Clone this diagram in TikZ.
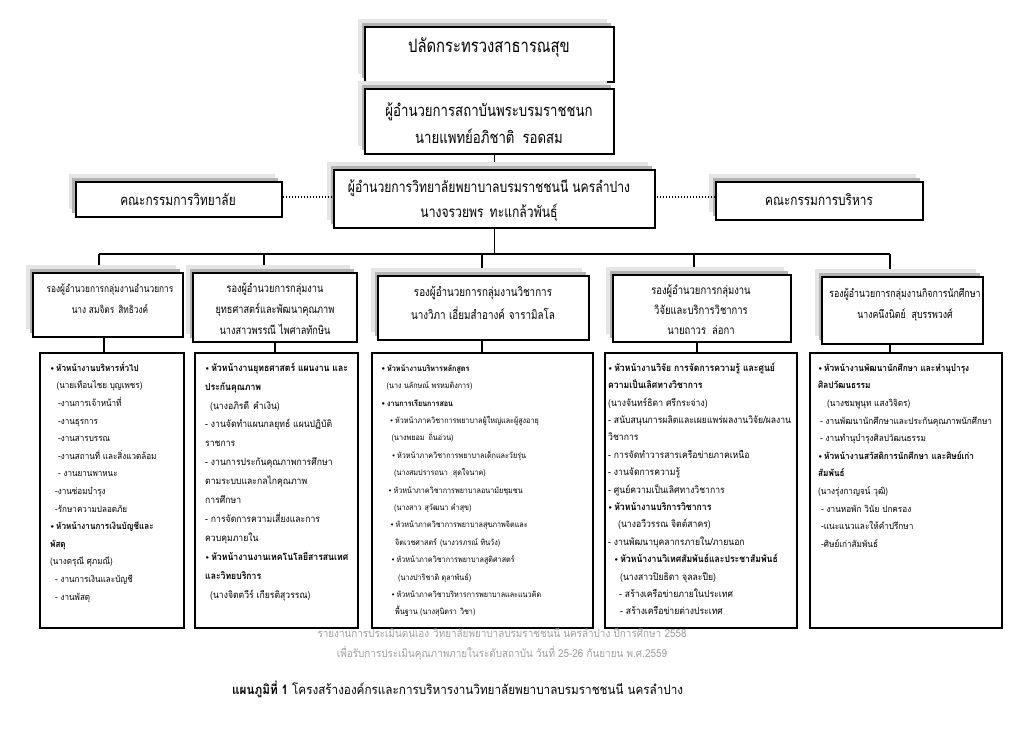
\documentclass[tikz,border=0pt]{standalone}
\usepackage{fontspec}
\newfontfamily\thai[Script=Thai]{Loma}
\newfontfamily\thaiA[Script=Thai,FakeStretch=0.8]{Loma}
\newfontfamily\thaiB[Script=Thai,FakeStretch=0.9]{Loma}
\newfontfamily\dejavu{DejaVu Sans}
\usetikzlibrary{shadows,calc}
\pgfdeclarelayer{bg}
\pgfsetlayers{bg,main}
\newcommand\bul{{\dejavu\fontsize{7}{8}\selectfont •}\,}
\newcommand\fr{\rule{0pt}{12pt}}
\tikzset{
  shadowed/.style={general shadow={shadow xshift=-7pt,shadow yshift=8pt,fill=gray!20},
                   general shadow={shadow xshift=-3.5pt,shadow yshift=4pt,fill=gray!60}},
  topbox/.style={draw=black, line width=1.8pt, fill=white, inner sep=0pt, shadowed},
  vpbox/.style={draw=black, line width=2.3pt, fill=white, inner sep=0pt, shadowed},
  dbox/.style={draw=black, line width=1.2pt, fill=white, inner sep=0pt},
  link/.style={line width=1.5pt},
  busline/.style={line width=2pt},
  dots/.style={line width=2.4pt, dash pattern=on 1.6pt off 1.4pt},
  toptext/.style={align=center, inner sep=0pt},
  vptext/.style={align=center, inner sep=0pt},
  dtext/.style={anchor=north west, align=left, inner sep=0pt},
  foot/.style={inner sep=0pt, text=gray!75, font=\thaiB\fontsize{11}{12}\selectfont},
}
\begin{document}
\begin{tikzpicture}[x=1pt,y=-1pt]
\useasboundingbox (0,0) rectangle (1030,728);
\begin{pgfonlayer}{bg}
\fill[white] (0,0) rectangle (1030,728);
\end{pgfonlayer}

% top boxes
\node[topbox, minimum width=249pt, minimum height=55pt] (top1) at (489.5,54.5) {};
\node[toptext, font=\thaiA\fontsize{18.5}{27}\selectfont] (top1t) at (489,48) {ปลัดกระทรวงสาธารณสุข};
\node[topbox, minimum width=249pt, minimum height=65pt] (top2) at (489.5,121.5) {};
\node[toptext, font=\thaiA\fontsize{16.5}{27}\selectfont] (top2t) at (489,123.5) {ผู้อำนวยการสถาบันพระบรมราชชนก\\นายแพทย์อภิชาติ\hspace{8pt}รอดสม};
\node[topbox, minimum width=321pt, minimum height=58pt] (dir) at (494.5,199) {};
\node[toptext, font=\thaiA\fontsize{15.2}{25}\selectfont] (dirt) at (489,200.5) {ผู้อำนวยการวิทยาลัยพยาบาลบรมราชชนนี นครลำปาง\\นางจรวยพร\hspace{6pt}ทะแกล้วพันธุ์};
\node[topbox, minimum width=206pt, minimum height=35pt] (comL) at (178.75,199.5) {};
\node[toptext, font=\thaiA\fontsize{14.8}{20}\selectfont] (comLt) at (178,200) {คณะกรรมการวิทยาลัย};
\node[topbox, minimum width=207pt, minimum height=38pt] (comR) at (819.5,201) {};
\node[toptext, font=\thaiA\fontsize{14.8}{20}\selectfont] (comRt) at (819,200) {คณะกรรมการบริหาร};

% second level
\node[vpbox, minimum width=150pt, minimum height=64pt] (vA) at (108,305) {};
\node[vptext, font=\thaiA\fontsize{10.4}{21}\selectfont] (vAt) at (110,299) {รองผู้อำนวยการกลุ่มงานอำนวยการ\\นาง สมจิตร\hspace{4pt}สิทธิวงค์};
\node[vpbox, minimum width=164pt, minimum height=69pt] (vB) at (275,307.5) {};
\node[vptext, font=\thaiA\fontsize{11.5}{21}\selectfont] (vBt) at (275,309) {รองผู้อำนวยการกลุ่มงาน\\ยุทธศาสตร์และพัฒนาคุณภาพ\\นางสาวพรรณี ไพศาลทักษิน};
\node[vpbox, minimum width=211pt, minimum height=64pt] (vC) at (483.5,308) {};
\node[vptext, font=\thaiA\fontsize{12.3}{23}\selectfont] (vCt) at (483,302.5) {รองผู้อำนวยการกลุ่มงานวิชาการ\\นางวิภา เอี่ยมสำอางค์\hspace{4pt}จารามิลโล};
\node[vpbox, minimum width=178pt, minimum height=67pt] (vD) at (702,308.5) {};
\node[vptext, font=\thaiA\fontsize{11.8}{20}\selectfont] (vDt) at (701,310) {รองผู้อำนวยการกลุ่มงาน\\วิจัยและบริการวิชาการ\\นายถาวร\hspace{6pt}ล่อกา};
\node[vpbox, minimum width=161pt, minimum height=67pt] (vE) at (902.5,310.5) {};
\node[vptext, font=\thaiA\fontsize{11}{21}\selectfont] (vEt) at (905,304.5) {รองผู้อำนวยการกลุ่มงานกิจการนักศึกษา\\นางคนึงนิตย์\hspace{6pt}สุบรรพวงศ์};

% detail boxes
\node[dbox, minimum width=144pt, minimum height=275pt] (dA) at (112,490.5) {};
\node[dbox, minimum width=163pt, minimum height=275pt] (dB) at (276.5,490.5) {};
\node[dbox, minimum width=221pt, minimum height=275pt] (dC) at (482.5,490.5) {};
\node[dbox, minimum width=192pt, minimum height=275pt] (dD) at (701,490.5) {};
\node[dbox, minimum width=192pt, minimum height=275pt] (dE) at (906,490.5) {};

\node[dtext, font=\thaiB\fontsize{9}{17.6}\selectfont] (dAt) at (50,359) {%
\fr\textbf{\bul หัวหน้างานบริหารทั่วไป}\\
\hspace*{6.5pt}(นายเทือนไชย บุญเพชร)\\
\hspace*{8pt}-งานการเจ้าหน้าที่\\
\hspace*{8pt}-งานธุรการ\\
\hspace*{8pt}-งานสารบรรณ\\
\hspace*{8pt}-งานสถานที่ และสิ่งแวดล้อม\\
\hspace*{8pt}- งานยานพาหนะ\\
\hspace*{5pt}-งานซ่อมบำรุง\\
\hspace*{5pt}-รักษาความปลอดภัย\\
\textbf{\bul หัวหน้างานการเงินบัญชีและ}\\
\textbf{พัสดุ}\\
(นางดรุณี ศุภมณี)\\
\hspace*{5pt}- งานการเงินและบัญชี\\
\hspace*{5pt}- งานพัสดุ};

\node[dtext, font=\thaiB\fontsize{9.6}{18.9}\selectfont] (dBt) at (205,359) {%
\fr\textbf{\bul หัวหน้างานยุทธศาสตร์ แผนงาน และ}\\
\textbf{ประกันคุณภาพ}\\
\hspace*{5pt}(นางอภิรดี\hspace{4pt}คำเงิน)\\
- งานจัดทำแผนกลยุทธ์ แผนปฏิบัติ\\
ราชการ\\
- งานการประกันคุณภาพการศึกษา\\
ตามระบบและกลไกคุณภาพ\\
การศึกษา\\
- การจัดการความเสี่ยงและการ\\
ควบคุมภายใน\\
\textbf{\bul หัวหน้างานงานเทคโนโลยีสารสนเทศ}\\
\textbf{และวิทยบริการ}\\
\hspace*{5pt}(นางจิตตวีร์ เกียรติสุวรรณ)};

\node[dtext, font=\thaiB\fontsize{8}{17.4}\selectfont] (dCt) at (381,359) {%
\fr\textbf{\bul หัวหน้างานบริหารหลักสูตร}\\
\hspace*{5.5pt}(นาง นลักษณ์ พรหมติงการ)\\
\textbf{\bul งานการเรียนการสอน}\\
\hspace*{8.5pt}\bul หัวหน้าภาควิชาการพยาบาลผู้ใหญ่และผู้สูงอายุ\\
\hspace*{10.5pt}(นางพยอม\hspace{4pt}ถิ่นอ่วน)\\
\hspace*{10.5pt}\bul หัวหน้าภาควิชาการพยาบาลเด็กและวัยรุ่น\\
\hspace*{13pt}(นางสมปรารถนา\hspace{5pt}สุดใจนาค)\\
\hspace*{7pt}\bul หัวหน้าภาควิชาการพยาบาลอนามัยชุมชน\\
\hspace*{13pt}(นางสาว\hspace{3pt}สุวัฒนา คำสุข)\\
\hspace*{9pt}\bul หัวหน้าภาควิชาการพยาบาลสุขภาพจิตและ\\
\hspace*{14pt}จิตเวชศาสตร์\hspace{3pt}(นางวรภรณ์ ทินวัง)\\
\hspace*{10pt}\bul หัวหน้าภาควิชาการพยาบาลสูติศาสตร์\\
\hspace*{17pt}(นางปาริชาติ ดุลาพันธ์)\\
\hspace*{10pt}\bul หัวหน้าภาควิชาบริหารการพยาบาลและแนวคิด\\
\hspace*{14pt}พื้นฐาน (นางสุนิตรา\hspace{3pt}วิชา)};

\node[dtext, font=\thaiB\fontsize{9.6}{17.4}\selectfont] (dDt) at (608,359) {%
\fr\textbf{\bul หัวหน้างานวิจัย การจัดการความรู้\hspace{3pt}และศูนย์}\\
\textbf{ความเป็นเลิศทางวิชาการ}\\
(นางจันทร์ธิดา ศรีกระจ่าง)\\
- สนับสนุนการผลิตและเผยแพร่ผลงานวิจัย/ผลงาน\\
วิชาการ\\
- การจัดทำวารสารเครือข่ายภาคเหนือ\\
- งานจัดการความรู้\\
- ศูนย์ความเป็นเลิศทางวิชาการ\\
\textbf{\bul หัวหน้างานบริการวิชาการ}\\
\hspace*{10pt}(นางอวีวรรณ จิตต์สาคร)\\
- งานพัฒนาบุคลากรภายใน/ภายนอก\\
\hspace*{6pt}\textbf{\bul หัวหน้างานวิเทศสัมพันธ์และประชาสัมพันธ์}\\
\hspace*{12pt}(นางสาวปิยธิดา จุลละปีย)\\
\hspace*{11pt}- สร้างเครือข่ายภายในประเทศ\\
\hspace*{12pt}- สร้างเครือข่ายต่างประเทศ};

\node[dtext, font=\thaiB\fontsize{9.1}{17.6}\selectfont] (dEt) at (818,359) {%
\fr\textbf{\bul หัวหน้างานพัฒนานักศึกษา\hspace{3pt}และทำนุบำรุง}\\
\textbf{ศิลปวัฒนธรรม}\\
\hspace*{9pt}(นางชมพูนุท แสงวิจิตร)\\
\hspace*{2pt}- งานพัฒนานักศึกษาและประกันคุณภาพนักศึกษา\\
\hspace*{2pt}- งานทำนุบำรุงศิลปวัฒนธรรม\\
\textbf{\bul หัวหน้างานสวัสดิการนักศึกษา\hspace{3pt}และศิษย์เก่า}\\
\textbf{สัมพันธ์}\\
(นางรุ่งกาญจน์\hspace{3pt}วุฒิ)\\
\hspace*{3pt}- งานหอพัก วินัย\hspace{3pt}ปกครอง\\
\hspace*{3pt}-แนะแนวและให้คำปรึกษา\\
\hspace*{3pt}-ศิษย์เก่าสัมพันธ์};

% footer
\node[foot] (f1) at (502,633) {รายงานการประเมินตนเอง\hspace{4pt}วิทยาลัยพยาบาลบรมราชชนนี\hspace{3pt}นครลำปาง ปีการศึกษา 2558};
\node[foot] (f2) at (502,653) {เพื่อรับการประเมินคุณภาพภายในระดับสถาบัน วันที่\hspace{3pt}25-26 กันยายน พ.ศ.2559};
\node[inner sep=0pt, anchor=west, font=\thaiB\fontsize{13}{14}\selectfont] (cap) at (232,689) {\textbf{แผนภูมิที่ 1}\hspace{4pt}โครงสร้างองค์กรและการบริหารงานวิทยาลัยพยาบาลบรมราชชนนี นครลำปาง};

% connectors
\coordinate (busL) at (98.5,254);
\coordinate (busR) at (890,254);
\coordinate (jA) at (99,254);
\coordinate (jB) at (264,254);
\coordinate (jC) at (482,254);
\coordinate (jD) at (694,254);
\coordinate (jE) at (890,254);
\coordinate (kA) at (104,0);
\coordinate (kB) at (275,0);
\coordinate (kC) at (482,0);
\coordinate (kD) at (697,0);
\coordinate (kE) at (890,0);
\begin{pgfonlayer}{bg}
\draw[link] (dir.north |- top2.south) -- (dir.north);
\draw[link] (dir.south) -- (dir.south |- busL);
\draw[busline] (busL) -- (busR);
\foreach \j/\v in {jA/vA,jB/vB,jC/vC,jD/vD,jE/vE}
  \draw[link] (\j) -- (\j |- \v.north);
\foreach \k/\v/\d in {kA/vA/dA,kB/vB/dB,kC/vC/dC,kD/vD/dD,kE/vE/dE}
  \draw[link] (\k |- \v.south) -- (\k |- \d.north);
\end{pgfonlayer}
\draw[dots] ([yshift=2.5pt]comL.east) -- ([yshift=2.5pt]comL.east -| dir.west);
\draw[dots] ([yshift=4pt]comR.west) -- ([yshift=4pt]comR.west -| dir.east);
\end{tikzpicture}
\end{document}
